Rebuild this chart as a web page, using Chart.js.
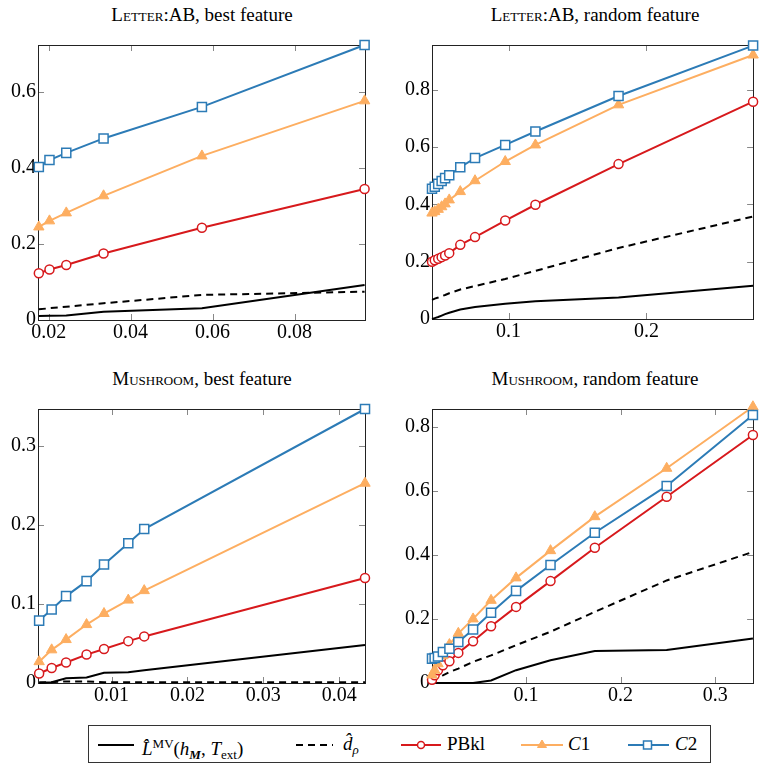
<!DOCTYPE html>
<html>
<head>
<meta charset="utf-8">
<script src="https://cdn.jsdelivr.net/npm/chart.js@4.4.0/dist/chart.umd.min.js"></script>
<style>
  body { margin: 0; background: #fff; }
  #page { position: relative; width: 761px; height: 764px; font-family: "Liberation Serif", "DejaVu Serif", serif; color: #000; }
  canvas { position: absolute; }
  .title { position: absolute; width: 330px; text-align: center; font-size: 19px; line-height: 24px; white-space: nowrap; }
  .sc { font-variant: small-caps; }
  #legend { position: absolute; left: 88px; top: 725px; width: 623px; height: 38px; border: 1px solid #333; box-sizing: border-box; }
  #legend svg { position: absolute; top: 12px; }
  #legend .lab { position: absolute; top: 6px; font-size: 19px; line-height: 24px; white-space: nowrap; }
  .mi { font-style: italic; }
  sup { font-size: 13px; vertical-align: 7px; }
  sub { font-size: 13px; vertical-align: -4px; }
</style>
</head>
<body>
<div id="page">
  <div class="title" style="left:37px; top:3px;"><span class="sc">Letter</span>:AB, best feature</div>
  <div class="title" style="left:430px; top:3px;"><span class="sc">Letter</span>:AB, random feature</div>
  <div class="title" style="left:37px; top:367px;"><span class="sc">Mushroom</span>, best feature</div>
  <div class="title" style="left:430px; top:367px;"><span class="sc">Mushroom</span>, random feature</div>

  <canvas id="c1" width="380" height="350" style="left:0; top:0;"></canvas>
  <canvas id="c2" width="381" height="350" style="left:380px; top:0;"></canvas>
  <canvas id="c3" width="380" height="355" style="left:0; top:360px;"></canvas>
  <canvas id="c4" width="381" height="355" style="left:380px; top:360px;"></canvas>

  <div id="legend">
    <svg width="40" height="14" style="left:7px;"><line x1="2" y1="7" x2="38" y2="7" stroke="#000" stroke-width="2"/></svg>
    <span class="lab" style="left:53px;"><span class="mi">L̂</span><sup>MV</sup>(<span class="mi">h</span><sub><b><i>M</i></b></sub>, <span class="mi">T</span><sub>ext</sub>)</span>
    <svg width="40" height="14" style="left:205px;"><line x1="2" y1="7" x2="39" y2="7" stroke="#000" stroke-width="2" stroke-dasharray="7,5"/></svg>
    <span class="lab" style="left:254px;"><span class="mi">d̂</span><sub class="mi">ρ</sub></span>
    <svg width="44" height="14" style="left:310px;"><line x1="2" y1="7" x2="42" y2="7" stroke="#d7191c" stroke-width="2"/><circle cx="22" cy="7" r="3.5" fill="#fff" stroke="#d7191c" stroke-width="1.5"/></svg>
    <span class="lab" style="left:358px;">PBkl</span>
    <svg width="46" height="14" style="left:430px;"><line x1="2" y1="7" x2="44" y2="7" stroke="#fdae61" stroke-width="2"/><polygon points="23,2 27.5,9.5 18.5,9.5" fill="#fdae61" stroke="#fdae61" stroke-width="1"/></svg>
    <span class="lab" style="left:479px;"><span class="mi">C</span>1</span>
    <svg width="46" height="14" style="left:537px;"><line x1="2" y1="7" x2="43" y2="7" stroke="#2c7bb6" stroke-width="2"/><rect x="17.5" y="3" width="8" height="8" fill="#fff" stroke="#2c7bb6" stroke-width="1.5"/></svg>
    <span class="lab" style="left:586px;"><span class="mi">C</span>2</span>
  </div>
</div>

<script>
const red = "#d7191c";
const orange = "#fdae61";
const blue = "#2c7bb6";
const tickFont = { family: '"Liberation Serif", "Times New Roman", Times, serif', size: 20 };

// Letter:AB, best feature
const letterBestX = [0.0176, 0.0202, 0.0243, 0.0334, 0.0574, 0.0971];
const letterBestLmv = [0.0105, 0.011, 0.012, 0.022, 0.031, 0.092];
const letterBestD = [0.028, 0.031, 0.035, 0.044, 0.066, 0.0745];
const letterBestPBkl = [0.123, 0.133, 0.145, 0.175, 0.243, 0.345];
const letterBestC1 = [0.245, 0.261, 0.282, 0.327, 0.432, 0.577];
const letterBestC2 = [0.403, 0.421, 0.44, 0.478, 0.561, 0.724];
const letterBestXTicks = [0.02, 0.04, 0.06, 0.08];
const letterBestYTicks = [0, 0.2, 0.4, 0.6];

// Letter:AB, random feature
const letterRandX = [0.0445, 0.0465, 0.049, 0.0515, 0.054, 0.057, 0.065, 0.0757, 0.0976, 0.1195, 0.1798, 0.2774];
const letterRandLmv = [0, 0.003, 0.007, 0.012, 0.017, 0.022, 0.033, 0.042, 0.053, 0.062, 0.075, 0.116];
const letterRandD = [0.067, 0.071, 0.075, 0.08, 0.084, 0.09, 0.103, 0.115, 0.14, 0.168, 0.248, 0.358];
const letterRandPBkl = [0.2, 0.205, 0.21, 0.216, 0.222, 0.23, 0.259, 0.286, 0.344, 0.399, 0.541, 0.759];
const letterRandC1 = [0.37, 0.375, 0.383, 0.392, 0.402, 0.416, 0.445, 0.483, 0.55, 0.608, 0.748, 0.922];
const letterRandC2 = [0.455, 0.462, 0.472, 0.482, 0.492, 0.502, 0.53, 0.562, 0.608, 0.655, 0.779, 0.955];
const letterRandXTicks = [0.1, 0.2];
const letterRandYTicks = [0, 0.2, 0.4, 0.6, 0.8];

// Mushroom, best feature
const mushBestX = [0.00045, 0.0021, 0.004, 0.0067, 0.009, 0.0122, 0.0143, 0.0434];
const mushBestLmv = [0, 0.001, 0.006, 0.007, 0.013, 0.0135, 0.016, 0.048];
const mushBestD = [0.001, 0.001, 0.002, 0.002, 0.001, 0.001, 0.001, 0.001];
const mushBestPBkl = [0.012, 0.019, 0.026, 0.036, 0.043, 0.053, 0.059, 0.133];
const mushBestC1 = [0.027, 0.042, 0.055, 0.074, 0.088, 0.105, 0.117, 0.253];
const mushBestC2 = [0.079, 0.093, 0.11, 0.129, 0.15, 0.177, 0.195, 0.347];
const mushBestXTicks = [0.01, 0.02, 0.03, 0.04];
const mushBestYTicks = [0, 0.1, 0.2, 0.3];

// Mushroom, random feature
const mushRandX = [0.0008, 0.0036, 0.0071, 0.0123, 0.0192, 0.0286, 0.0442, 0.0632, 0.0896, 0.126, 0.1728, 0.2487, 0.3398];
const mushRandLmv = [0, 0, 0, 0, 0, 0, 0, 0.008, 0.04, 0.071, 0.1, 0.103, 0.139];
const mushRandD = [0.003, 0.01, 0.017, 0.024, 0.034, 0.045, 0.066, 0.086, 0.118, 0.16, 0.222, 0.32, 0.409];
const mushRandPBkl = [0.01, 0.024, 0.04, 0.055, 0.068, 0.094, 0.13, 0.177, 0.2375, 0.318, 0.422, 0.581, 0.774];
const mushRandC1 = [0.025, 0.04, 0.06, 0.085, 0.12, 0.155, 0.2, 0.258, 0.328, 0.413, 0.519, 0.67, 0.862];
const mushRandC2 = [0.076, 0.078, 0.083, 0.097, 0.107, 0.128, 0.167, 0.219, 0.2875, 0.368, 0.469, 0.615, 0.836];
const mushRandXTicks = [0.1, 0.2, 0.3];
const mushRandYTicks = [0, 0.2, 0.4, 0.6, 0.8];

// box = canvas [left, top, w, h], area = plot frame [left, top, right, bottom] in page px
const panels = [
  { id: "c1", box: [0, 0, 380, 350], area: [38, 45, 365, 320], xMin: 0.0174, xMax: 0.0972, yMax: 0.724,
    x: letterBestX, lmv: letterBestLmv, d: letterBestD, pbkl: letterBestPBkl, c1: letterBestC1, c2: letterBestC2,
    xTicks: letterBestXTicks, yTicks: letterBestYTicks },
  { id: "c2", box: [380, 0, 381, 350], area: [432, 45, 758, 319], xMin: 0.0445, xMax: 0.2774, yMax: 0.957,
    x: letterRandX, lmv: letterRandLmv, d: letterRandD, pbkl: letterRandPBkl, c1: letterRandC1, c2: letterRandC2,
    xTicks: letterRandXTicks, yTicks: letterRandYTicks },
  { id: "c3", box: [0, 360, 380, 355], area: [38, 409, 365, 683], xMin: 0.0003, xMax: 0.0434, yMax: 0.347,
    x: mushBestX, lmv: mushBestLmv, d: mushBestD, pbkl: mushBestPBkl, c1: mushBestC1, c2: mushBestC2,
    xTicks: mushBestXTicks, yTicks: mushBestYTicks },
  { id: "c4", box: [380, 360, 381, 355], area: [432, 409, 758, 683], xMin: 0.0008, xMax: 0.34, yMax: 0.855,
    x: mushRandX, lmv: mushRandLmv, d: mushRandD, pbkl: mushRandPBkl, c1: mushRandC1, c2: mushRandC2,
    xTicks: mushRandXTicks, yTicks: mushRandYTicks },
];

// pgfplots-like frame with small inward ticks on all four sides
const frame = {
  id: "frame",
  beforeDatasetsDraw(chart) {
    const { ctx, chartArea: a, scales } = chart;
    ctx.save();
    ctx.strokeStyle = "#888";
    ctx.lineWidth = 1;
    ctx.beginPath();
    scales.x.ticks.forEach(t => {
      const px = Math.round(scales.x.getPixelForValue(t.value)) + 0.5;
      ctx.moveTo(px, a.bottom); ctx.lineTo(px, a.bottom - 6);
      ctx.moveTo(px, a.top); ctx.lineTo(px, a.top + 6);
    });
    scales.y.ticks.forEach(t => {
      const py = Math.round(scales.y.getPixelForValue(t.value)) + 0.5;
      ctx.moveTo(a.left, py); ctx.lineTo(a.left + 6, py);
      ctx.moveTo(a.right, py); ctx.lineTo(a.right - 6, py);
    });
    ctx.stroke();
    ctx.strokeStyle = "#222";
    ctx.strokeRect(Math.round(a.left) + 0.5, Math.round(a.top) + 0.5, Math.round(a.right - a.left), Math.round(a.bottom - a.top));
    ctx.restore();
  }
};

function series(xs, ys, color, extra) {
  return Object.assign({
    data: xs.map((x, i) => ({ x: x, y: ys[i] })),
    borderColor: color,
    borderWidth: 2,
    pointRadius: 0,
    tension: 0,
    clip: false,
  }, extra);
}

function build() {
  panels.forEach(p => {
    new Chart(document.getElementById(p.id), {
      type: "line",
      data: {
        datasets: [
          series(p.x, p.lmv, "#000", { order: 4 }),
          series(p.x, p.d, "#000", { order: 3, borderDash: [7, 5] }),
          series(p.x, p.pbkl, red, { order: 2, pointStyle: "circle", pointRadius: 4.5, pointBorderWidth: 1.5, pointBackgroundColor: "#fff" }),
          series(p.x, p.c1, orange, { order: 1, pointStyle: "triangle", pointRadius: 6, pointBorderWidth: 1, pointBackgroundColor: orange }),
          series(p.x, p.c2, blue, { order: 0, pointStyle: "rect", pointRadius: 6.4, pointBorderWidth: 1.5, pointBackgroundColor: "#fff" }),
        ],
      },
      options: {
        responsive: false,
        animation: false,
        events: [],
        layout: {
          padding: { left: 0, top: p.area[1] - p.box[1], right: p.box[0] + p.box[2] - p.area[2], bottom: 0 },
        },
        plugins: { legend: { display: false }, tooltip: { enabled: false } },
        scales: {
          x: {
            type: "linear",
            min: p.xMin,
            max: p.xMax,
            grid: { display: false, drawTicks: false },
            border: { display: false },
            afterBuildTicks: s => { s.ticks = p.xTicks.map(v => ({ value: v })); },
            afterFit: s => { s.height = p.box[1] + p.box[3] - p.area[3]; },
            ticks: { font: tickFont, color: "#000", padding: 1, maxRotation: 0, autoSkip: false, callback: v => String(v) },
          },
          y: {
            type: "linear",
            min: 0,
            max: p.yMax,
            grid: { display: false, drawTicks: false },
            border: { display: false },
            afterBuildTicks: s => { s.ticks = p.yTicks.map(v => ({ value: v })); },
            afterFit: s => { s.width = p.area[0] - p.box[0]; },
            ticks: { font: tickFont, color: "#000", padding: 2, autoSkip: false, callback: v => String(v) },
          },
        },
      },
      plugins: [frame],
    });
  });
}

// make sure the serif face is ready before the canvases measure text
document.fonts.load('20px "Liberation Serif"').then(build, build);
</script>
</body>
</html>
